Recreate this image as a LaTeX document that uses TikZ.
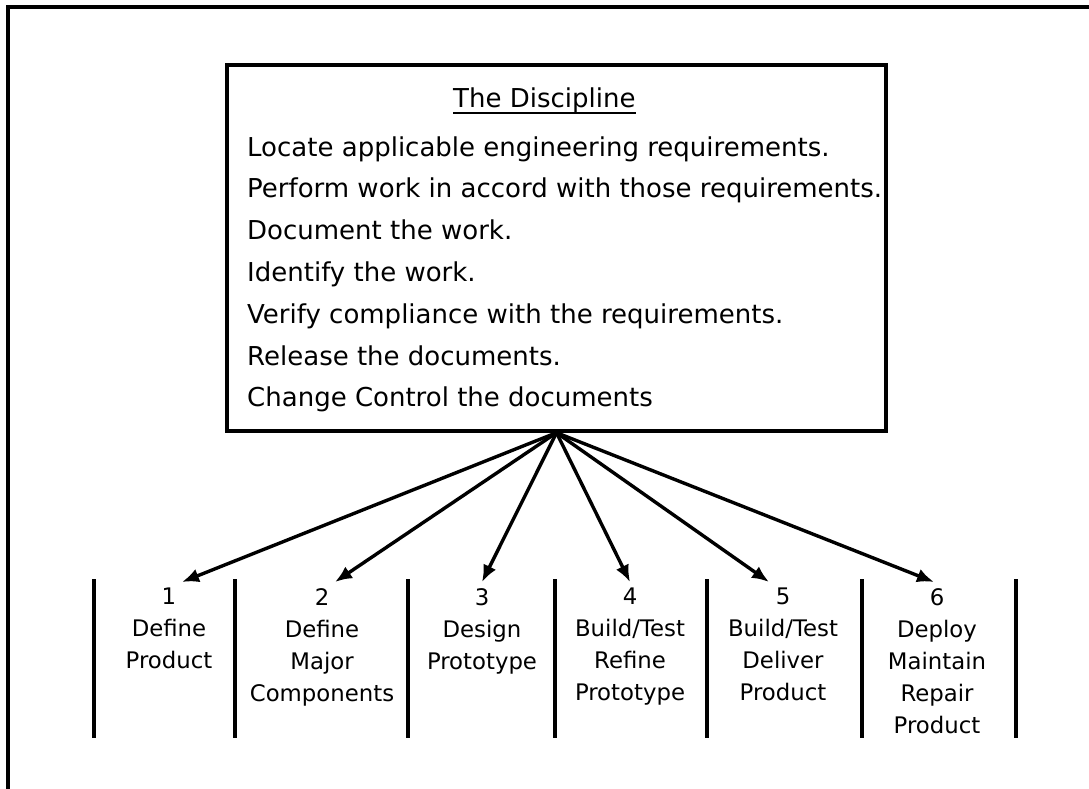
\documentclass[tikz,border=0pt]{standalone}
\usepackage{fontspec}
\setmainfont{DejaVu Sans}
\usetikzlibrary{arrows.meta}
\begin{document}
\begin{tikzpicture}[x=1pt,y=-1pt,
  rule/.style={line width=3.4pt},
  boxtext/.style={font=\fontsize{26}{42}\selectfont, inner sep=0pt, anchor=base west},
  stagelabel/.style={font=\fontsize{22.8}{32}\selectfont, align=center,
    inner xsep=0pt, inner ysep=6pt, anchor=north},
  fan/.style={line width=3.4pt, -{Latex[length=17pt,width=14pt]}},
]
\useasboundingbox (0,0) rectangle (1089,789);

% page frame: top and left edges only
\draw[rule, line join=miter] (8,789) -- (8,7) -- (1089,7);

% the discipline box
\node[draw, rule, minimum width=659pt, minimum height=366pt, inner sep=0pt]
  (disc) at (556.5,248) {};
\node[boxtext] (title) at (453,108) {The Discipline};
\draw[line width=2.8pt] ([yshift=-5pt]title.base west) -- ([yshift=-5pt]title.base east);
\foreach \t [count=\i] in {
  Locate applicable engineering requirements.,
  Perform work in accord with those requirements.,
  Document the work.,
  Identify the work.,
  Verify compliance with the requirements.,
  Release the documents.,
  Change Control the documents}
  \node[boxtext] (r\i) at (247,{156+(\i-1)*41.83}) {\t};

% stage columns
\foreach \x in {94,235,408,555,707,862,1016}
  \draw[rule] (\x,579) -- (\x,738);

\node[stagelabel] (s1) at (169,582) {1\\Define\\Product};
\node[stagelabel] (s2) at (322,582) {2\\Define\\Major\\Components};
\node[stagelabel] (s3) at (482,582) {3\\Design\\Prototype};
\node[stagelabel] (s4) at (630,582) {4\\Build/Test\\Refine\\Prototype};
\node[stagelabel] (s5) at (783,582) {5\\Build/Test\\Deliver\\Product};
\node[stagelabel] (s6) at (937,582) {6\\Deploy\\Maintain\\Repair\\Product};

% connectors from the box to each stage
\draw[fan] (disc.south) -- ([xshift=13pt]s1.north);
\draw[fan] (disc.south) -- ([xshift=13pt]s2.north);
\draw[fan] (disc.south) -- (s3.north);
\draw[fan] (disc.south) -- (s4.north);
\draw[fan] (disc.south) -- ([xshift=-14pt]s5.north);
\draw[fan] (disc.south) -- ([xshift=-3pt]s6.north);
\end{tikzpicture}
\end{document}
